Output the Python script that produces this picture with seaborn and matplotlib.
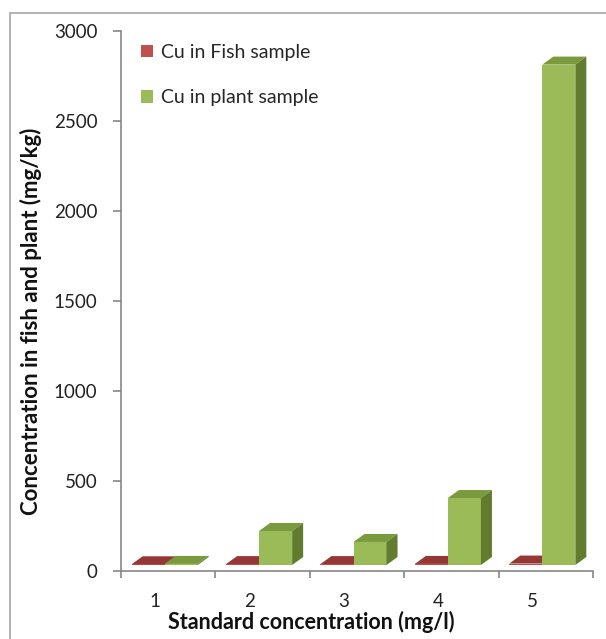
import matplotlib
matplotlib.use("Agg")
import matplotlib.pyplot as plt
from matplotlib.patches import Polygon, Rectangle
from matplotlib.transforms import Affine2D
import seaborn as sns
import pandas as pd

# Data
categories = ["1", "2", "3", "4", "5"]
fish_cu = [4, 5, 5, 6, 8]
plant_cu = [6, 189, 128, 372, 2780]
series_names = ["Cu in Fish sample", "Cu in plant sample"]
y_ticks = [0, 500, 1000, 1500, 2000, 2500, 3000]

df = pd.DataFrame({
    "conc": categories * 2,
    "value": fish_cu + plant_cu,
    "series": [series_names[0]] * len(categories) + [series_names[1]] * len(categories),
})

sns.set_theme(style="white")
plt.rcParams["font.family"] = ["Lato", "DejaVu Sans"]

W, H, DPI = 606, 639, 100
fig = plt.figure(figsize=(W / DPI, H / DPI), dpi=DPI)
ax_left, ax_right, ax_top, ax_bottom = 121, 593, 31, 571
ax = fig.add_axes([ax_left / W, 1 - ax_bottom / H, (ax_right - ax_left) / W, (ax_bottom - ax_top) / H])

front = {series_names[0]: "#C0504D", series_names[1]: "#9BBB59"}
top_col = {series_names[0]: "#953735", series_names[1]: "#7A9A3E"}
side_col = {series_names[0]: "#772C2A", series_names[1]: "#617C2F"}

sns.barplot(data=df, x="conc", y="value", hue="series", palette=front,
            width=0.7, ax=ax, saturation=1, linewidth=0, legend=True)

ax.set_xlim(-0.5, 4.5)
ax.set_ylim(0, 3000)
ax.set_yticks(y_ticks)

# 3-D look: bars sit slightly back on the floor, with top and side faces
shift = Affine2D().translate(-3.5, 6)
depth_px = (11, 8)
x_per_px = 5.0 / (ax_right - ax_left)
y_per_px = 3000.0 / (ax_bottom - ax_top)
ddx, ddy = depth_px[0] * x_per_px, depth_px[1] * y_per_px

bars = [p for p in ax.patches if isinstance(p, Rectangle)]
n = len(categories)
order = []
for i in range(n):
    order.append((bars[i], series_names[0], i))
    order.append((bars[n + i], series_names[1], i))

z = 2
for patch, name, i in order:
    x0 = patch.get_x()
    w = patch.get_width()
    h = patch.get_height()
    trans = ax.transData + shift
    patch.set_transform(trans)
    patch.set_zorder(z)
    topf = Polygon([(x0, h), (x0 + w, h), (x0 + w + ddx, h + ddy), (x0 + ddx, h + ddy)],
                   closed=True, facecolor=top_col[name], edgecolor="none",
                   transform=trans, zorder=z + 0.1)
    sidef = Polygon([(x0 + w, 0), (x0 + w + ddx, ddy), (x0 + w + ddx, h + ddy), (x0 + w, h)],
                    closed=True, facecolor=side_col[name], edgecolor="none",
                    transform=trans, zorder=z + 0.1)
    ax.add_patch(topf)
    ax.add_patch(sidef)
    z += 1

# Axes styling
axis_grey = "#868686"
for s in ["top", "right"]:
    ax.spines[s].set_visible(False)
for s in ["left", "bottom"]:
    ax.spines[s].set_color(axis_grey)
    ax.spines[s].set_linewidth(1.2)

ax.set_xticks([i + 0.5 for i in range(-1, n)], minor=True)
ax.tick_params(axis="x", which="minor", bottom=True, length=5, width=1.2, color=axis_grey)
ax.tick_params(axis="x", which="major", bottom=True, length=0, pad=16, labelsize=13.5,
               labelcolor="#222222")
ax.tick_params(axis="y", which="major", left=True, length=6, width=1.2, color=axis_grey,
               pad=11, labelsize=13.5, labelcolor="#222222")
for lab in ax.get_xticklabels():
    lab.set_transform(lab.get_transform() + Affine2D().translate(-13, 0))

ax.set_xlabel("")
ax.set_ylabel("")
fig.text(311 / W, 1 - 622 / H, "Standard concentration (mg/l)", ha="center", va="center",
         fontsize=15.5, fontweight="bold", color="#111111")
fig.text(31 / W, 1 - 321 / H, "Concentration in fish and plant (mg/kg)", ha="center",
         va="center", rotation=90, fontsize=16, fontweight="bold", color="#111111")

# Legend
handles, labels = ax.get_legend_handles_labels()
ax.legend(handles, labels, loc="upper left",
          bbox_to_anchor=((141 - ax_left) / (ax_right - ax_left), (ax_bottom - 44) / (ax_bottom - ax_top)),
          frameon=False, handlelength=0.6, handleheight=0.6, handletextpad=0.45,
          labelspacing=1.45, fontsize=14, borderaxespad=0, borderpad=0)

# Chart border
fig.patches.append(Rectangle((10 / W, -0.1), 1.2, 1 - 13 / H + 0.1, transform=fig.transFigure,
                             fill=False, edgecolor="#A6A6A6", linewidth=1.2))

fig.savefig("out.png", dpi=DPI, facecolor="white")
